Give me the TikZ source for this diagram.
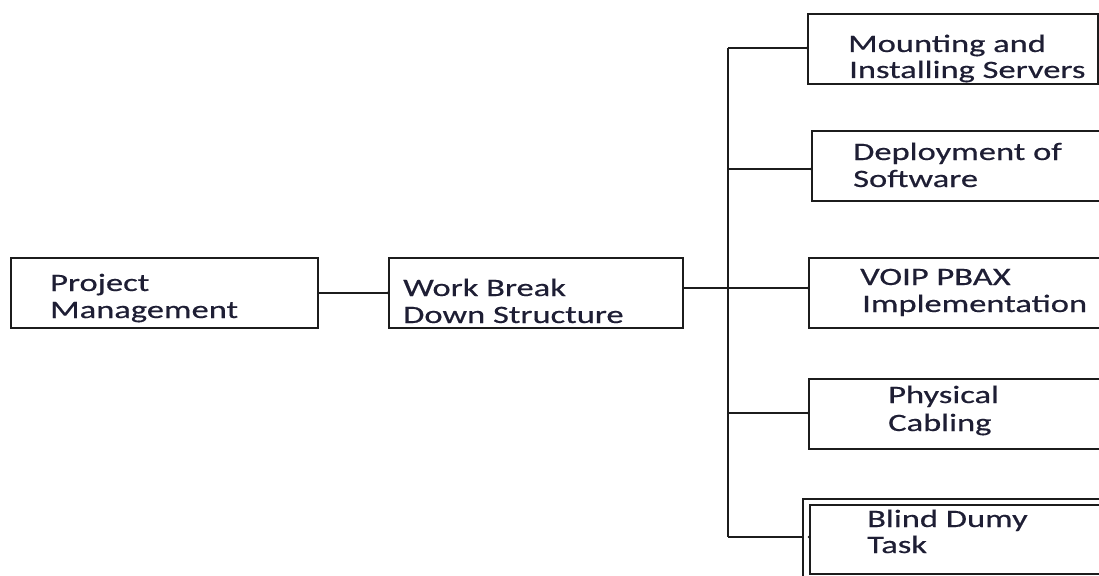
\documentclass[tikz,border=0pt]{standalone}
\usepackage{fontspec}
\setmainfont{Carlito}[FakeStretch=1.38,FakeBold=0.5]
\definecolor{ink}{RGB}{30,30,52}
\definecolor{edge}{RGB}{28,28,28}
\begin{document}
\begin{tikzpicture}[x=1pt,y=-1pt,
  box/.style={draw=edge,line width=1.8pt,anchor=north west,inner sep=0pt,
    minimum width=#1},
  box/.default=294pt,
  lbl/.style={anchor=base west,inner sep=0pt,text=ink,
    font=\fontsize{25}{27}\selectfont},
  wire/.style={draw=edge,line width=1.6pt},
  tipdot/.style={fill=edge,circle,inner sep=0pt,minimum size=3pt}]
\useasboundingbox (0,0) rectangle (1099,575);
\clip (0,0) rectangle (1099,575);
\fill[white] (0,0) rectangle (1099,575);

% left part of the chart
\node[box=307pt,minimum height=70pt] (pm) at (10,257) {};
\node[box=294pt,minimum height=70pt] (wbs) at (388,257) {};

% work packages on the right
\node[box=290pt,minimum height=70pt] (b1) at (807,13) {};
\node[box=300pt,minimum height=70pt] (b2) at (811,130) {};
\node[box=300pt,minimum height=70pt] (b3) at (808,257) {};
\node[box=300pt,minimum height=70pt] (b4) at (808,378) {};
\node[box=310pt,minimum height=90pt] (b5) at (802,498) {};
\node[box=300pt,minimum height=69pt] (b5in) at (809,504) {};

% labels
\node[lbl] (t1) at (50,291) {Project};
\node[lbl] (t2) at (50,318) {Management};
\node[lbl] (t3) at (403,296) {Work Break};
\node[lbl] (t4) at (403,323) {Down Structure};
\node[lbl] (t5) at (848,52) {Mounting and};
\node[lbl] (t6) at (849,78) {Installing Servers};
\node[lbl] (t7) at (853,160) {Deployment of};
\node[lbl] (t8) at (853,187) {Software};
\node[lbl] (t9) at (860,285) {VOIP PBAX};
\node[lbl] (t10) at (862,312) {Implementation};
\node[lbl] (t11) at (888,403) {Physical};
\node[lbl] (t12) at (888,431) {Cabling};
\node[lbl] (t13) at (867,527) {Blind Dumy};
\node[lbl] (t14) at (867,553) {Task};

% bus junctions
\coordinate (j1) at (728,48);
\coordinate (j2) at (728,169);
\coordinate (j3) at (728,288);
\coordinate (j4) at (728,413);
\coordinate (j5) at (728,537);

% connectors
\draw[wire] (pm.east) -- (wbs.west);
\draw[wire] (wbs.east |- j3) -- (j3);
\draw[wire] (j1) -- (j5);
\draw[wire] (j1) -- (b1.west |- j1);
\draw[wire] (j2) -- (b2.west |- j2);
\draw[wire] (j3) -- (b3.west |- j3);
\draw[wire] (j4) -- (b4.west |- j4);
\draw[wire] (j5) -- (b5.west |- j5);

% small dots where the connectors meet the boxes
\node[tipdot] (d0) at (wbs.west) {};
\node[tipdot] (d1) at (b1.west |- j1) {};
\node[tipdot] (d2) at (b2.west |- j2) {};
\node[tipdot] (d3) at (b3.west |- j3) {};
\node[tipdot] (d4) at (b4.west |- j4) {};
\node[tipdot] (d5) at (b5in.west |- j5) {};
\end{tikzpicture}
\end{document}
